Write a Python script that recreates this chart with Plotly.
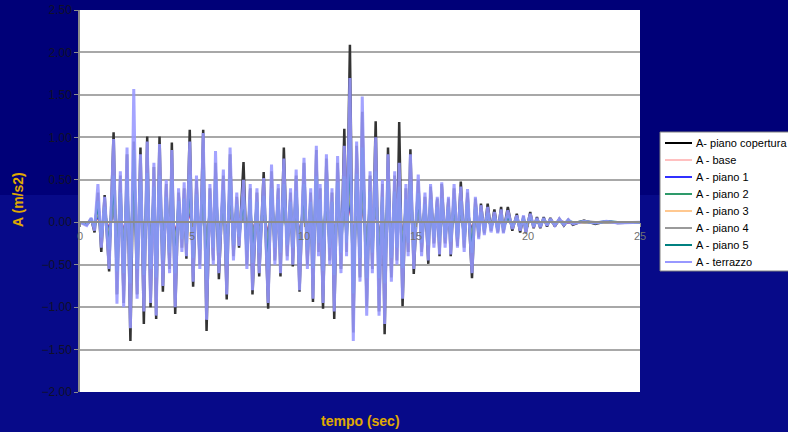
import plotly.graph_objects as go

# time of each sampled extreme (s)
tempo = [0.00, 0.30, 0.50, 0.65, 0.80, 0.95, 1.10, 1.30, 1.50, 1.65,
         1.80, 1.95, 2.10, 2.25, 2.40, 2.55, 2.70, 2.85, 3.00, 3.15,
         3.30, 3.40, 3.55, 3.70, 3.85, 4.00, 4.10, 4.25, 4.40, 4.55,
         4.65, 4.75, 4.90, 5.05, 5.20, 5.35, 5.50, 5.65, 5.80, 5.95,
         6.05, 6.20, 6.40, 6.55, 6.70, 6.85, 7.00, 7.10, 7.30, 7.45,
         7.60, 7.70, 7.90, 8.00, 8.20, 8.40, 8.55, 8.70, 8.85, 8.95,
         9.10, 9.25, 9.40, 9.50, 9.65, 9.80, 10.00, 10.15, 10.30, 10.40,
         10.55, 10.65, 10.72, 10.85, 11.00, 11.15, 11.25, 11.35, 11.50, 11.65,
         11.80, 11.90, 12.05, 12.20, 12.35, 12.50, 12.60, 12.80, 12.95, 13.05,
         13.20, 13.35, 13.50, 13.60, 13.75, 13.90, 14.05, 14.15, 14.25, 14.40,
         14.55, 14.65, 14.75, 14.90, 15.10, 15.25, 15.40, 15.55, 15.65, 15.80,
         15.95, 16.05, 16.15, 16.30, 16.45, 16.55, 16.70, 16.85, 17.00, 17.15,
         17.30, 17.50, 17.65, 17.80, 17.90, 18.05, 18.20, 18.35, 18.50, 18.65,
         18.80, 18.90, 19.10, 19.30, 19.50, 19.65, 19.80, 19.90, 20.10, 20.25,
         20.40, 20.55, 20.70, 20.85, 21.00, 21.20, 21.40, 21.60, 21.80, 22.00,
         22.50, 23.00, 23.50, 24.00, 25.00]

a_copertura = [0, -.03, .04, -.12, .35, -.35, .32, -.58, 1.06, -.85, .55, -.95, .80, -1.40, .95, -.85, .88, -1.20, 1.01, -1.00,
               .65, -1.14, 1.01, -.82, .45, -.55, .94, -1.08, .35, -.30, .40, -.43, 1.09, -.76, .50, -.50, 1.09, -1.28, .40, -.45,
               .70, -.67, .55, -.91, .80, -.40, .30, -.30, .71, -.50, .40, -.85, .35, -.64, .59, -1.02, .60, -.45, .40, -.64,
               .88, -.40, .35, -.52, .55, -.82, .70, -.50, .35, -.94, .85, -.35, .40, -1.02, .75, -.45, .35, -1.14, .70, -.55,
               1.10, -.35, 2.09, -1.30, .90, -.65, 1.30, -1.00, .55, -.55, 1.19, -1.05, .45, -1.32, .88, -.65, .55, -.45, 1.18, -.99,
               .40, -.35, .86, -.61, .50, -.35, .30, -.49, .42, -.25, .28, -.40, .45, -.25, .28, -.40, .40, -.28, .48, -.30,
               .35, -.66, .28, -.18, .22, -.13, .22, -.10, .15, -.12, .18, -.12, .18, -.10, .10, -.12, .07, -.13, .12, -.07,
               .06, -.07, .06, -.05, .05, -.05, .04, -.04, .03, -.03, .02, -.02, .01, -.01, 0]

a_base = [0, -.01, .01, -.02, .07, -.05, .05, -.08, .15, -.14, .09, -.15, .13, -.19, .24, -.14, .12, -.16, .14, -.14,
          .10, -.17, .14, -.11, .08, -.09, .13, -.15, .06, -.05, .07, -.06, .14, -.11, .08, -.08, .16, -.17, .07, -.08,
          .13, -.09, .09, -.13, .13, -.07, .05, -.04, .08, -.08, .07, -.12, .06, -.09, .08, -.14, .10, -.08, .07, -.09,
          .11, -.07, .06, -.08, .09, -.12, .11, -.08, .06, -.14, .14, -.06, .07, -.14, .12, -.08, .06, -.16, .12, -.09,
          .14, -.06, .26, -.21, .14, -.11, .22, -.17, .09, -.09, .15, -.17, .08, -.18, .12, -.11, .09, -.08, .11, -.14,
          .07, -.06, .12, -.08, .08, -.06, .05, -.07, .07, -.05, .05, -.06, .07, -.05, .05, -.06, .07, -.05, .06, -.05,
          .06, -.09, .05, -.03, .03, -.02, .03, -.02, .02, -.02, .02, -.02, .02, -.01, .01, -.02, .01, -.02, .02, -.01,
          .01, -.01, .01, -.01, .01, -.01, .01, 0, 0, 0, 0, 0, 0, 0, 0]

a_piano1 = [0, -.01, .01, -.02, .10, -.07, .07, -.12, .22, -.21, .13, -.22, .19, -.28, .35, -.20, .18, -.23, .21, -.21,
            .15, -.24, .20, -.17, .11, -.13, .19, -.22, .09, -.08, .10, -.09, .21, -.15, .12, -.12, .23, -.25, .10, -.11,
            .18, -.13, .14, -.19, .19, -.10, .08, -.06, .11, -.12, .10, -.18, .09, -.13, .11, -.21, .15, -.11, .10, -.13,
            .17, -.10, .09, -.11, .14, -.18, .17, -.12, .09, -.20, .20, -.09, .10, -.21, .18, -.11, .09, -.23, .17, -.13,
            .20, -.09, .37, -.31, .21, -.15, .33, -.24, .13, -.13, .22, -.24, .11, -.26, .18, -.15, .13, -.11, .15, -.20,
            .10, -.09, .18, -.12, .12, -.09, .08, -.10, .10, -.07, .07, -.08, .10, -.07, .07, -.08, .10, -.07, .09, -.08,
            .09, -.13, .07, -.04, .04, -.03, .04, -.03, .03, -.03, .03, -.03, .03, -.02, .02, -.02, .02, -.03, .02, -.01,
            .01, -.01, .01, -.01, .01, -.01, .01, 0, 0, 0, 0, 0, 0, 0, 0]

a_piano2 = [0, -.01, .02, -.03, .14, -.09, .09, -.17, .30, -.29, .18, -.30, .26, -.38, .47, -.27, .24, -.32, .29, -.28,
            .21, -.33, .28, -.23, .15, -.18, .26, -.30, .12, -.11, .14, -.12, .29, -.21, .17, -.17, .32, -.35, .14, -.15,
            .25, -.18, .19, -.26, .26, -.14, .11, -.08, .15, -.17, .14, -.24, .12, -.18, .16, -.29, .20, -.15, .14, -.18,
            .23, -.14, .12, -.15, .19, -.24, .23, -.17, .12, -.27, .27, -.12, .14, -.29, .24, -.15, .12, -.32, .23, -.18,
            .27, -.12, .51, -.42, .29, -.21, .44, -.33, .18, -.18, .30, -.33, .15, -.36, .24, -.21, .18, -.15, .21, -.27,
            .14, -.12, .24, -.17, .17, -.12, .11, -.14, .14, -.09, .09, -.11, .14, -.09, .09, -.11, .14, -.09, .13, -.11,
            .12, -.18, .09, -.06, .06, -.05, .05, -.04, .04, -.04, .05, -.04, .04, -.02, .02, -.03, .02, -.04, .03, -.02,
            .02, -.02, .02, -.01, .01, -.01, .01, -.01, .01, 0, 0, 0, 0, 0, 0]

a_piano3 = [0, -.01, .02, -.04, .18, -.12, .12, -.22, .39, -.38, .24, -.40, .35, -.50, .62, -.36, .32, -.42, .38, -.38,
            .28, -.44, .37, -.30, .20, -.24, .34, -.40, .16, -.14, .19, -.16, .38, -.28, .22, -.22, .42, -.46, .18, -.20,
            .33, -.24, .25, -.34, .35, -.18, .14, -.11, .20, -.22, .18, -.32, .16, -.24, .21, -.38, .27, -.20, .18, -.24,
            .30, -.18, .16, -.20, .25, -.32, .30, -.22, .16, -.36, .36, -.16, .18, -.38, .32, -.20, .16, -.42, .31, -.24,
            .36, -.16, .68, -.56, .38, -.28, .59, -.44, .24, -.24, .40, -.44, .20, -.48, .32, -.28, .24, -.20, .28, -.36,
            .18, -.16, .32, -.22, .22, -.16, .14, -.18, .18, -.12, .12, -.15, .19, -.12, .12, -.15, .18, -.12, .17, -.14,
            .16, -.24, .12, -.08, .08, -.06, .07, -.05, .05, -.05, .06, -.05, .06, -.03, .03, -.04, .03, -.05, .04, -.02,
            .02, -.02, .02, -.02, .02, -.02, .02, -.01, .01, -.01, 0, 0, 0, 0, 0]

a_piano4 = [0, -.02, .02, -.05, .22, -.15, .16, -.27, .48, -.47, .30, -.50, .44, -.62, .76, -.45, .40, -.52, .47, -.47,
            .35, -.55, .46, -.37, .25, -.30, .42, -.50, .20, -.17, .23, -.20, .47, -.35, .27, -.27, .52, -.57, .22, -.25,
            .42, -.30, .31, -.42, .44, -.22, .17, -.14, .25, -.27, .22, -.40, .20, -.30, .26, -.47, .34, -.25, .22, -.30,
            .37, -.22, .20, -.25, .31, -.40, .38, -.27, .20, -.45, .45, -.20, .22, -.47, .40, -.25, .20, -.52, .39, -.30,
            .45, -.20, .84, -.70, .47, -.35, .74, -.55, .30, -.30, .50, -.55, .25, -.60, .40, -.35, .30, -.25, .35, -.45,
            .22, -.20, .40, -.27, .28, -.20, .17, -.22, .22, -.15, .15, -.19, .23, -.15, .15, -.19, .22, -.15, .21, -.17,
            .19, -.30, .15, -.10, .10, -.07, .09, -.06, .06, -.06, .07, -.06, .07, -.04, .04, -.05, .04, -.06, .05, -.03,
            .02, -.03, .02, -.02, .02, -.02, .02, -.01, .01, -.01, .01, 0, 0, 0, 0]

a_piano5 = [0, -.02, .03, -.06, .25, -.18, .18, -.32, .55, -.58, .35, -.60, .52, -.72, .85, -.55, .48, -.62, .58, -.55,
            .42, -.65, .55, -.45, .30, -.36, .50, -.60, .25, -.20, .28, -.25, .56, -.42, .33, -.32, .62, -.68, .27, -.30,
            .50, -.36, .38, -.50, .52, -.27, .21, -.17, .30, -.33, .27, -.48, .24, -.36, .31, -.56, .40, -.30, .27, -.36,
            .45, -.27, .24, -.30, .37, -.48, .45, -.33, .24, -.54, .54, -.24, .27, -.57, .48, -.30, .24, -.62, .47, -.36,
            .54, -.24, 1.00, -.84, .57, -.42, .88, -.66, .36, -.36, .60, -.66, .30, -.72, .48, -.42, .36, -.30, .42, -.54,
            .27, -.24, .48, -.33, .34, -.24, .21, -.27, .27, -.18, .18, -.23, .28, -.18, .18, -.23, .27, -.18, .25, -.21,
            .23, -.36, .18, -.12, .12, -.09, .11, -.07, .07, -.08, .09, -.08, .08, -.05, .05, -.06, .05, -.07, .06, -.04,
            .03, -.04, .03, -.02, .02, -.02, .02, -.02, .02, -.01, .01, -.01, .01, 0, 0]

a_terrazzo = [0, -.04, .05, -.10, .45, -.30, .30, -.55, .98, -.96, .60, -1.00, .88, -1.25, 1.57, -.90, .80, -1.05, .95, -.95,
              .70, -1.10, .92, -.75, .50, -.60, .85, -1.00, .40, -.35, .47, -.40, .95, -.70, .55, -.55, 1.05, -1.15, .45, -.50,
              .84, -.60, .62, -.85, .88, -.45, .35, -.28, .50, -.55, .45, -.80, .40, -.60, .52, -.95, .68, -.50, .45, -.60,
              .75, -.45, .40, -.50, .62, -.80, .76, -.55, .40, -.90, .90, -.40, .45, -.95, .80, -.50, .40, -1.05, .78, -.60,
              .90, -.40, 1.70, -1.40, .95, -.70, 1.48, -1.10, .60, -.60, 1.00, -1.10, .50, -1.20, .80, -.70, .60, -.50, .70, -.90,
              .45, -.40, .80, -.55, .56, -.40, .35, -.45, .45, -.30, .30, -.38, .47, -.30, .30, -.38, .45, -.30, .42, -.35,
              .39, -.60, .30, -.20, .20, -.15, .18, -.12, .12, -.13, .15, -.13, .14, -.08, .08, -.10, .08, -.12, .10, -.06,
              .05, -.06, .05, -.04, .04, -.04, .04, -.03, .03, -.02, .01, -.01, .01, -.01, 0]

series_names = ["A- piano copertura", "A - base", "A - piano 1", "A - piano 2",
                "A - piano 3", "A - piano 4", "A - piano 5", "A - terrazzo"]
series_values = [a_copertura, a_base, a_piano1, a_piano2, a_piano3, a_piano4, a_piano5, a_terrazzo]
series_colors = ["#333333", "#ff6a6a", "#2f2fff", "#2e9a6a", "#ffc890", "#9a9a9a", "#008080", "#9898ff"]
legend_colors = ["#000000", "#ffc0c0", "#3030ff", "#2e9a6a", "#ffc890", "#9a9a9a", "#008080", "#9898ff"]
series_widths = [2.5, 2.5, 2.5, 2.5, 2.5, 2.5, 2.5, 3]
series_opacity = [1, 1, 1, 1, 1, 1, 1, 0.88]

x_ticks = [0, 5, 10, 15, 20, 25]
y_ticks = [-2.0, -1.5, -1.0, -0.5, 0.0, 0.5, 1.0, 1.5, 2.0, 2.5]

for v in series_values:
    assert len(v) == len(tempo), (len(v), len(tempo))

fig = go.Figure()
for name, vals, col, w, op in zip(series_names, series_values, series_colors, series_widths, series_opacity):
    fig.add_trace(go.Scatter(x=tempo, y=vals, mode="lines", name=name, opacity=op,
                             line=dict(color=col, width=w), showlegend=False))

# page geometry (pixels)
W, H = 788, 432
L, R, T, B = 80, 640, 10, 392


def px(xp):
    return (xp - L) / (R - L)


def py(yp):
    return (B - yp) / (B - T)


Y0, Y1 = -2.0, 2.5

band = "rgba(20,30,170,0.35)"
shapes = [
    dict(type="rect", xref="paper", yref="paper", x0=px(0), x1=px(L), y0=py(H), y1=py(195),
         fillcolor=band, line=dict(width=0), layer="below"),
    dict(type="rect", xref="paper", yref="paper", x0=px(R), x1=px(W), y0=py(H), y1=py(195),
         fillcolor=band, line=dict(width=0), layer="below"),
    dict(type="rect", xref="paper", yref="paper", x0=px(L), x1=px(R), y0=py(H), y1=py(B),
         fillcolor=band, line=dict(width=0), layer="below"),
    # legend box
    dict(type="rect", xref="paper", yref="paper", x0=px(660), x1=px(800), y0=py(271), y1=py(132),
         fillcolor="#ffffff", line=dict(color="#808080", width=1), layer="above"),
]
annotations = [
    dict(text="<b>tempo (sec)</b>", x=px(360), y=py(421), xref="paper", yref="paper",
         showarrow=False, xanchor="center", yanchor="middle",
         font=dict(size=14, color="#e0aa00")),
    dict(text="<b>A (m/s2)</b>", x=px(18), y=py(200), xref="paper", yref="paper",
         showarrow=False, textangle=-90, xanchor="center", yanchor="middle",
         font=dict(size=14, color="#e0aa00")),
]
for i, (name, col) in enumerate(zip(series_names, legend_colors)):
    yy = 143 + 17 * i
    shapes.append(dict(type="line", xref="paper", yref="paper", x0=px(665), x1=px(692),
                       y0=py(yy), y1=py(yy), line=dict(color=col, width=2), layer="above"))
    annotations.append(dict(text=name, x=px(694), y=py(yy), xref="paper", yref="paper",
                            showarrow=False, xanchor="left", yanchor="middle",
                            font=dict(size=11, color="#000000")))

fig.update_layout(
    width=W, height=H,
    margin=dict(l=L, r=W - R, t=T, b=H - B, autoexpand=False),
    paper_bgcolor="#000078",
    plot_bgcolor="#ffffff",
    font=dict(family="Liberation Sans, Arial, sans-serif"),
    showlegend=False,
    xaxis=dict(range=[0, 25], tickvals=x_ticks, ticktext=[str(t) for t in x_ticks],
               anchor="free", position=(0 - Y0) / (Y1 - Y0),
               showline=True, linecolor="#8c8c8c", linewidth=1.5,
               ticks="outside", ticklen=4, tickcolor="#8c8c8c",
               showgrid=False, zeroline=False,
               tickfont=dict(size=11, color="#707070")),
    yaxis=dict(range=[Y0, Y1], tickvals=y_ticks, tickformat=".2f",
               showline=True, linecolor="#8c8c8c", linewidth=1.5,
               ticks="outside", ticklen=4, tickcolor="#8c8c8c",
               showgrid=True, gridcolor="#a8a8a8", gridwidth=1.5,
               zeroline=False,
               tickfont=dict(size=12, color="#10102a")),
    shapes=shapes,
    annotations=annotations,
)

fig.write_html("out.html")
